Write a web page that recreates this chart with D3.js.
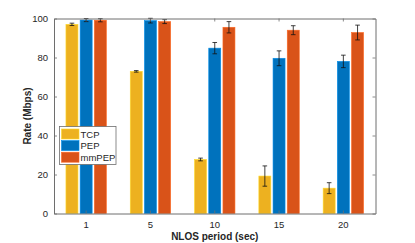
<!DOCTYPE html>
<html>
<head>
<meta charset="utf-8">
<script src="https://cdn.jsdelivr.net/npm/d3@7/dist/d3.min.js"></script>
<style>
  html, body { margin: 0; padding: 0; background: #fff; }
  svg text { font-family: "Liberation Sans", Arial, sans-serif; fill: #262626; }
</style>
</head>
<body>
<svg id="chart" width="415" height="243"></svg>
<script>
const categories = ['1', '5', '10', '15', '20'];
const seriesNames = ['TCP', 'PEP', 'mmPEP'];
const tcpValues = [97.0, 72.9, 27.7, 19.2, 13.0];
const tcpErrors = [0.6, 0.4, 0.7, 5.2, 2.8];
const pepValues = [99.2, 98.9, 84.8, 79.6, 78.0];
const pepErrors = [0.8, 1.2, 2.9, 3.8, 3.2];
const mmpepValues = [99.1, 98.4, 95.5, 94.0, 92.8];
const mmpepErrors = [0.8, 1.0, 2.9, 2.3, 3.8];
const yTicks = [0, 20, 40, 60, 80, 100];

const colors = ['#EDB120', '#0072BD', '#D95319'];
const series = [
  { name: seriesNames[0], values: tcpValues, errors: tcpErrors },
  { name: seriesNames[1], values: pepValues, errors: pepErrors },
  { name: seriesNames[2], values: mmpepValues, errors: mmpepErrors },
];

const margin = { left: 54, right: 39.5, top: 18.5, bottom: 29.5 };
const width = 415, height = 243;
const svg = d3.select('#chart');

const x = d3.scaleBand()
  .domain(categories)
  .range([margin.left, width - margin.right])
  .paddingInner(0)
  .paddingOuter(0);

const y = d3.scaleLinear()
  .domain([0, 100])
  .range([height - margin.bottom, margin.top]);

const barW = 12;
const barStep = 14.2;
const axisColor = '#6e6e6e';

// bars
const g = svg.append('g');
series.forEach((s, si) => {
  const off = (si - 1) * barStep;
  g.append('g')
    .selectAll('rect')
    .data(categories)
    .enter()
    .append('rect')
    .attr('x', (c) => x(c) + x.bandwidth() / 2 + off - barW / 2)
    .attr('y', (c, i) => y(s.values[i]))
    .attr('width', barW)
    .attr('height', (c, i) => y(0) - y(s.values[i]))
    .attr('fill', colors[si])
    .attr('stroke', d3.color(colors[si]).brighter(0.6))
    .attr('stroke-width', 0.6);
});

// error bars
series.forEach((s, si) => {
  const off = (si - 1) * barStep;
  const eg = g.append('g').attr('stroke', '#111').attr('stroke-width', 0.8);
  categories.forEach((c, i) => {
    const cx = x(c) + x.bandwidth() / 2 + off;
    const hi = y(s.values[i] + s.errors[i]);
    const lo = y(s.values[i] - s.errors[i]);
    eg.append('line').attr('x1', cx).attr('x2', cx).attr('y1', hi).attr('y2', lo);
    eg.append('line').attr('x1', cx - 2.3).attr('x2', cx + 2.3).attr('y1', hi).attr('y2', hi);
    eg.append('line').attr('x1', cx - 2.3).attr('x2', cx + 2.3).attr('y1', lo).attr('y2', lo);
  });
});

// axes
const xAxis = svg.append('g')
  .attr('transform', 'translate(0,' + y(0) + ')')
  .call(d3.axisBottom(x).tickSizeInner(-3).tickSizeOuter(0).tickPadding(8));
const xTop = svg.append('g')
  .attr('transform', 'translate(0,' + y(100) + ')')
  .call(d3.axisTop(x).tickSizeInner(-3).tickSizeOuter(0).tickFormat(''));
const yAxis = svg.append('g')
  .attr('transform', 'translate(' + margin.left + ',0)')
  .call(d3.axisLeft(y).tickValues(yTicks).tickSizeInner(-3).tickSizeOuter(0).tickPadding(6));
const yRight = svg.append('g')
  .attr('transform', 'translate(' + (width - margin.right) + ',0)')
  .call(d3.axisRight(y).tickValues(yTicks).tickSizeInner(-3).tickSizeOuter(0).tickFormat(''));

[xAxis, xTop, yAxis, yRight].forEach((a) => {
  a.selectAll('path').attr('stroke', axisColor).attr('stroke-width', 1);
  a.selectAll('line').attr('stroke', axisColor).attr('stroke-width', 0.8);
  a.selectAll('text').attr('font-size', '9.5px').style('font-family', '"Liberation Sans", Arial, sans-serif').attr('fill', '#262626');
});

// axis titles
svg.append('text')
  .attr('x', x.range()[0] + (x.range()[1] - x.range()[0]) / 2)
  .attr('y', 240)
  .attr('text-anchor', 'middle')
  .attr('font-size', '10px')
  .attr('font-weight', 'bold')
  .text('NLOS period (sec)');

svg.append('text')
  .attr('transform', 'translate(31,' + ((y(0) + y(100)) / 2) + ') rotate(-90)')
  .attr('text-anchor', 'middle')
  .attr('font-size', '10px')
  .attr('font-weight', 'bold')
  .text('Rate (Mbps)');

// legend
const lg = svg.append('g').attr('transform', 'translate(59.5,126.5)');
lg.append('rect')
  .attr('width', 56.5)
  .attr('height', 38)
  .attr('fill', '#fff')
  .attr('stroke', axisColor)
  .attr('stroke-width', 0.8);
seriesNames.forEach((name, i) => {
  lg.append('rect')
    .attr('x', 2)
    .attr('y', 2.5 + i * 11.6)
    .attr('width', 17.5)
    .attr('height', 10)
    .attr('fill', colors[i])
    .attr('stroke', d3.color(colors[i]).brighter(0.6))
    .attr('stroke-width', 0.6);
  lg.append('text')
    .attr('x', 21)
    .attr('y', 11 + i * 11.6)
    .attr('font-size', '9.5px')
    .text(name);
});
</script>
</body>
</html>
